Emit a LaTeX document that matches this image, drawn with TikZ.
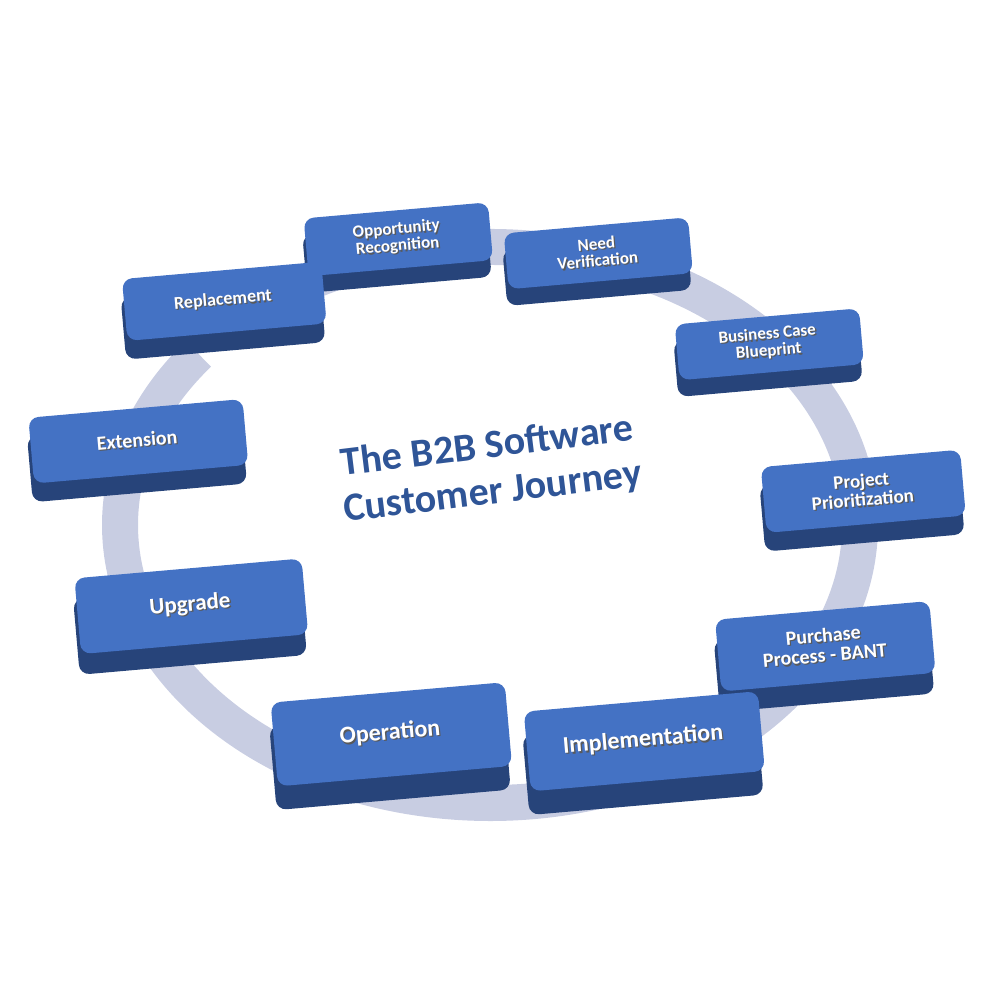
\documentclass[tikz,border=0pt]{standalone}
\usepackage{fontspec}
\setmainfont{Carlito}
\usetikzlibrary{arrows.meta}
\definecolor{topblue}{HTML}{4472C4}
\definecolor{sideblue}{HTML}{27447A}
\definecolor{ringc}{HTML}{C8CDE2}
\definecolor{titlec}{HTML}{2F5597}
\tikzset{
 face/.style={fill=topblue,rounded corners=10pt,minimum width=#1,inner sep=0pt,align=center,text=white,font=\bfseries},
 side/.style={fill=sideblue,rounded corners=10pt,minimum width=#1,inner sep=0pt},
}
% name, x, y(img), w, h, depth, size, text
\newcommand{\stagebox}[8]{%
 \node[side=#4pt,minimum height=#5pt,rotate=5] (#1s) at (#2pt,{1000-#3-#6}) {};
 \node[face=#4pt,minimum height=#5pt,rotate=5,font=\bfseries\fontsize{#7}{#7}\selectfont,text=gray!70!black] (#1h) at ({#2+1.3},{1000-#3-1.3}) {#8};
 \node[rotate=5,align=center,text=white,font=\bfseries\fontsize{#7}{#7}\selectfont] (#1) at (#2pt,{1000-#3}) {#8};
}
\begin{document}
\begin{tikzpicture}[x=1pt,y=1pt]
\useasboundingbox (0,0) rectangle (1000,1000);
\draw[ringc,line width=36pt] ([shift={(128:370pt and 278pt)}]490,475) arc[start angle=128,end angle=-218,x radius=370pt,y radius=278pt];
\node[rotate=7,text=titlec,font=\bfseries\fontsize{40}{46}\selectfont,align=center] (title) at (490,530) {The B2B Software\\Customer Journey};
\stagebox{opp}{397}{238}{185}{58}{18}{17}{Opportunity\\Recognition}
\stagebox{need}{597}{252}{185}{56}{18}{17}{Need\\Verification}
\stagebox{bcb}{768}{343}{185}{56}{18}{17}{Business Case\\Blueprint}
\stagebox{pp}{862}{490}{200}{66}{20}{19}{Project\\Prioritization}
\stagebox{pur}{824}{645}{215}{72}{22}{20}{Purchase\\Process - BANT}
\stagebox{imp}{643}{740}{235}{80}{25}{24}{Implementation}
\stagebox{op}{390}{733}{235}{84}{25}{24}{Operation}
\stagebox{up}{190}{605}{228}{76}{22}{23}{Upgrade}
\stagebox{ext}{137}{440}{215}{66}{20}{20}{Extension}
\stagebox{rep}{223}{300}{200}{62}{20}{18}{Replacement}
\end{tikzpicture}
\end{document}
